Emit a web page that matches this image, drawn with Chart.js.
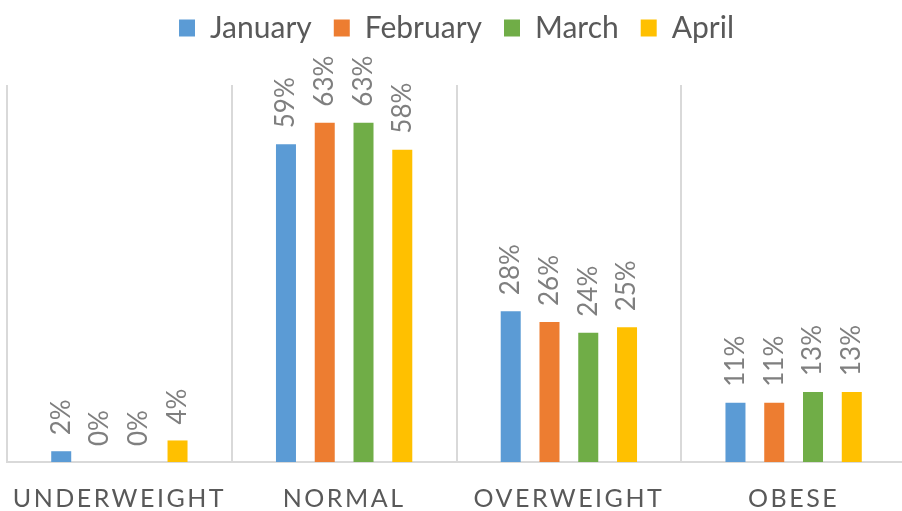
<!DOCTYPE html>
<html>
<head>
<meta charset="utf-8">
<script src="https://cdn.jsdelivr.net/npm/chart.js@4"></script>
<style>
html, body { margin: 0; padding: 0; background: #fff; overflow: hidden; }
#wrap { width: 906px; height: 511px; }
</style>
</head>
<body>
<div id="wrap"><canvas id="chart"></canvas></div>
<script>
// data
const categories = ['UNDERWEIGHT', 'NORMAL', 'OVERWEIGHT', 'OBESE'];
const seriesNames = ['January', 'February', 'March', 'April'];
const january = [2, 59, 28, 11];
const february = [0, 63, 26, 11];
const march = [0, 63, 24, 13];
const april = [4, 58, 25, 13];
const colors = ['#5B9BD5', '#ED7D31', '#70AD47', '#FFC000'];
const yMax = 70;

const seriesValues = [january, february, march, april];
const padTop = -9;

// percent labels above bars + letter spacing for the category labels
const valueLabels = {
    id: 'valueLabels',
    afterInit(chart) {
        const fit = chart.legend.fit;
        chart.legend.fit = function () {
            fit.call(this);
            this.height = 85 - padTop; // plot top at ~85px
        };
    },
    afterDatasetsDraw(chart) {
        const ctx = chart.ctx;
        ctx.save();
        ctx.font = '26px Lato';
        ctx.fillStyle = '#7f7f7f';
        ctx.textAlign = 'left';
        ctx.textBaseline = 'middle';
        chart.data.datasets.forEach((ds, i) => {
            chart.getDatasetMeta(i).data.forEach((bar, j) => {
                ctx.save();
                ctx.translate(bar.x, bar.y - 16);
                ctx.rotate(-Math.PI / 2);
                ctx.fillText(ds.data[j] + '%', 0, 0);
                ctx.restore();
            });
        });
        ctx.restore();
        ctx.letterSpacing = '2.5px'; // x tick labels are drawn next (z: 1)
    },
    afterDraw(chart) {
        chart.ctx.letterSpacing = '0px';
    }
};

new Chart(document.getElementById('chart'), {
    type: 'bar',
    data: {
        labels: categories,
        datasets: seriesNames.map((name, i) => ({
            label: name,
            data: seriesValues[i],
            backgroundColor: colors[i],
            borderWidth: 0,
            categoryPercentage: 0.69,
            barPercentage: 0.516
        }))
    },
    options: {
        responsive: true,
        maintainAspectRatio: false,
        animation: false,
        layout: { padding: { left: 7, right: 0, top: padTop, bottom: -24 } },
        plugins: {
            tooltip: { enabled: false },
            legend: {
                position: 'top',
                labels: {
                    font: { family: 'Lato', size: 30 },
                    color: '#595959',
                    boxWidth: 16,
                    boxHeight: 17,
                    padding: 22
                }
            }
        },
        scales: {
            x: {
                grid: { color: '#d9d9d9', lineWidth: 2, drawTicks: false, offset: true },
                border: { color: '#d9d9d9', width: 2 },
                ticks: {
                    z: 1,
                    color: '#595959',
                    font: { family: 'Lato', size: 25, lineHeight: 1 },
                    padding: 24,
                    maxRotation: 0,
                    autoSkip: false
                }
            },
            y: {
                display: false,
                min: 0,
                max: yMax
            }
        }
    },
    plugins: [valueLabels]
});
</script>
</body>
</html>
